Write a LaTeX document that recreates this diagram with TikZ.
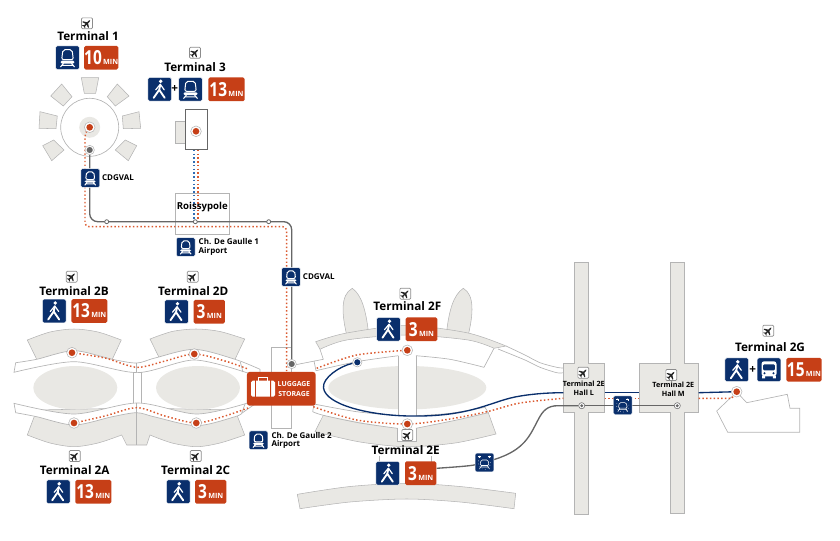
\documentclass[tikz,border=0pt]{standalone}
\usepackage{fontspec}
\setmainfont{Open Sans}
\newfontfamily\timefont[FakeStretch=.8]{Open Sans}
\usetikzlibrary{arrows.meta,positioning}
\pgfdeclarelayer{bldglayer}
\pgfdeclarelayer{linelayer}
\pgfsetlayers{bldglayer,linelayer,main}
\definecolor{navy}{HTML}{0A2F6C}
\definecolor{rust}{HTML}{C63F17}
\definecolor{dotred}{HTML}{DB5A30}
\definecolor{dotblue}{HTML}{2F6DB5}
\definecolor{pale}{HTML}{E9E8E4}
\definecolor{edge}{HTML}{B4B4B4}
\definecolor{valgrey}{HTML}{666666}
\newcommand{\mins}[1]{{\timefont\bfseries\fontsize{14.5}{14.5}\selectfont #1}\hspace{1pt}{\fontsize{5.4}{5.4}\selectfont\bfseries MIN}}
\tikzset{
  termlabel/.style={font=\fontsize{8.8}{10}\selectfont\bfseries,inner sep=0pt},
  minilabel/.style={font=\fontsize{6}{6.2}\selectfont\bfseries,align=left,inner sep=0pt},
  halllabel/.style={font=\fontsize{5.4}{7}\selectfont\bfseries,align=center,inner sep=0pt},
  iconbox/.style={fill=navy,draw=white,line width=.3pt,rounded corners=1.2pt,minimum size=17.8pt,inner sep=0pt},
  minibox/.style={fill=navy,draw=white,line width=.3pt,rounded corners=1pt,minimum size=14pt,inner sep=0pt},
  timebox/.style={fill=rust,text=white,rounded corners=1.2pt,minimum height=17.8pt,inner sep=0pt},
  planebox/.style={fill=white,draw=black!45,line width=.5pt,rounded corners=.8pt,minimum size=8.2pt,inner sep=0pt},
  redstop/.style={circle,fill=white,draw=edge,line width=.4pt,minimum size=8pt,inner sep=0pt,
    path picture={\fill[rust] (path picture bounding box.center) circle (2.5pt);}},
  bluestop/.style={circle,fill=white,draw=edge,line width=.4pt,minimum size=7pt,inner sep=0pt,
    path picture={\fill[navy] (path picture bounding box.center) circle (2.3pt);}},
  darkstop/.style={circle,fill=white,draw=edge,line width=.4pt,minimum size=7pt,inner sep=0pt,
    path picture={\fill[valgrey] (path picture bounding box.center) circle (2.3pt);}},
  hallstop/.style={circle,fill=white,draw=valgrey,line width=.4pt,minimum size=4.6pt,inner sep=0pt,
    path picture={\fill[valgrey] (path picture bounding box.center) circle (1.2pt);}},
  linestop/.style={circle,fill=white,draw=valgrey,line width=.6pt,minimum size=3pt,inner sep=0pt},
  valline/.style={draw=valgrey,line width=1pt},
  navyline/.style={draw=navy,line width=1pt},
  reddots/.style={draw=dotred,line width=1.1pt,dash pattern=on 1.1pt off 1.7pt},
  bluedots/.style={draw=dotblue,line width=1.1pt,dash pattern=on 1.1pt off 1.7pt},
  bldg/.style={fill=pale,draw=edge,line width=.4pt},
  thin outline/.style={draw=edge,line width=.5pt},
  pics/walkglyph/.style={code={
    \fill[white] (1,-8) circle (1.9);
    \draw[white,line width=1.4pt,line cap=round,line join=round]
      (-6,8.5) -- (-.5,.5) -- (5,8.5) (-.5,.5) -- (.6,-4.5);
    \draw[white,line width=.9pt,line cap=round,line join=round]
      (-4,.5) -- (.6,-5) -- (4.5,.5);
  }},
  pics/trainglyph/.style={code={
    \draw[white,line width=.75pt,rounded corners=1.5pt] (-4.6,-8) -- (4.6,-8) -- (5.8,2) -- (-5.8,2) -- cycle;
    \fill[white,rounded corners=1pt] (-7,3) rectangle (7,5.8);
    \draw[white,line width=.75pt] (-4,5.5) -- (-7,9.3) (4,5.5) -- (7,9.3) (-5.5,7.6) -- (5.5,7.6);
  }},
  pics/busglyph/.style={code={
    \fill[white,rounded corners=2pt] (-7.5,-8.5) rectangle (7.5,6.5);
    \fill[navy,rounded corners=.8pt] (-5.8,-5.5) rectangle (5.8,.5);
    \fill[navy] (-4.5,3.5) circle (1.1) (4.5,3.5) circle (1.1);
    \fill[white] (-6.8,6) rectangle (-3.8,8.5) (3.8,6) rectangle (6.8,8.5);
  }},
  pics/shuttleglyph/.style={code={
    \draw[white,line width=.4pt,rounded corners=1pt] (-3.5,-2.5) -- (3.5,-2.5) -- (4.5,3) -- (-4.5,3) -- cycle;
    \draw[white,line width=.4pt] (-4,4.5) -- (4,4.5) (-3,3) -- (-5,6.5) (3,3) -- (5,6.5);
    \draw[white,line width=.4pt,dotted] (-6,-2) .. controls (-7,3) and (-4,7) .. (0,7) .. controls (4,7) and (7,3) .. (6,-2);
    \draw[white,line width=.4pt,-{Stealth[length=1.5pt]}] (-5,-4.5) -- (-5,-7);
    \draw[white,line width=.4pt,-{Stealth[length=1.5pt]}] (5,-4.5) -- (5,-7);
    \draw[white,line width=.4pt] (-6.5,-6) -- (-3.5,-6) (3.5,-6) -- (6.5,-6);
  }},
  pics/planeglyph/.style={code={
    \begin{scope}[rotate=45]
      \fill[black!85] (-4.2,-.7) -- (3,-.7) -- (4.4,0) -- (3,.7) -- (-4.2,.7) -- cycle;
      \fill[black!85] (1.2,0) -- (-1.4,-4.2) -- (-2.4,-4.2) -- (-1.2,0) -- (-2.4,4.2) -- (-1.4,4.2) -- cycle;
      \fill[black!85] (-3,0) -- (-4.4,-2) -- (-5,-2) -- (-4.4,0) -- (-5,2) -- (-4.4,2) -- cycle;
    \end{scope}
  }},
}
\begin{document}
\begin{tikzpicture}[x=.75pt,y=-.75pt]
  \useasboundingbox (0,0) rectangle (840,540);

  \begin{pgfonlayer}{bldglayer}
  % terminal 1
  \draw[thin outline] (89.7,127.3) circle (29);
  \fill[pale] (89.7,127.3) circle (10.5);
  \foreach \sat in {
    {(81.3,77.7) -- (98.7,77.7) -- (95.7,93.3) -- (84.3,93.3)},
    {(117.3,84) -- (129,96) -- (115.3,106) -- (107.3,96.7)},
    {(122.3,116) -- (139,111.7) -- (140.7,128.3) -- (123.3,128.7)},
    {(125.3,140) -- (136.7,145.7) -- (128.3,160.7) -- (115.3,150)},
    {(53.7,140) -- (64,150) -- (51.7,160.7) -- (42.7,145.7)},
    {(40,111.7) -- (57.3,116) -- (56,128.7) -- (39,128.3)},
    {(61.7,84) -- (72,96.7) -- (63.3,106) -- (50.7,96)}}
    \draw[bldg] \sat -- cycle;

  % terminal 3 and roissypole
  \draw[bldg] (175.3,121.7) rectangle (185.7,143.3);
  \draw[draw=valgrey,line width=.6pt,fill=white] (185.7,109.3) rectangle (207.7,149.3);
  \draw[thin outline] (175.3,193.3) rectangle (229.3,234.3);

  % terminal 2 piers, west part
  \draw[bldg] plot[smooth] coordinates {(27.3,340) (50,332) (74,329) (98,332) (121.3,340)} -- (112.3,359.3) -- (36.7,359.3) -- cycle;
  \draw[bldg] plot[smooth] coordinates {(150,339) (172,331.5) (196,329) (220,331.5) (244.7,339)} -- (235,359.3) -- (160,359.3) -- cycle;
  \draw[bldg] (36.7,410) -- (27.3,435) -- plot[smooth] coordinates {(27.3,435) (50,443) (74,446.7) (98,443) (121.7,435)}
    -- (126.7,445) -- (146.7,445) -- (150,435) -- plot[smooth] coordinates {(150,435) (172,443) (196.7,446.7) (220,443) (244.7,435)}
    -- (235,410) -- (136.7,408) -- cycle;
  \fill[pale] (75.3,387.7) ellipse (42 and 21.7);
  \fill[pale] (198,387.7) ellipse (42 and 21.7);
  \draw[thin outline,fill=white] plot[smooth] coordinates {(15.7,362.7) (36.7,359.3) (74,350.7) (112.3,359.3) (136.7,363) (155,358) (194.3,349.3) (235,359.3) (260,369.3)}
    -- (260,376) -- plot[smooth] coordinates {(246.7,372.7) (194.3,360) (137.5,372.6) (74,361.7) (14,372.3)} -- cycle;
  \draw[thin outline,fill=white] plot[smooth] coordinates {(14,403.3) (74,414) (137.5,403) (196.7,414) (246.7,403.3)}
    -- (255,404) -- plot[smooth] coordinates {(241.7,413.3) (235,416.7) (196.7,425.7) (155,417) (136.7,412.7) (112.3,416.7) (74,425) (36.7,416.7) (15.7,412.7)} -- cycle;
  \draw[thin outline] (133.3,372.3) -- (133.3,403.3) (141.7,372.3) -- (141.7,403.3);
  \draw[thin outline] (136.7,363) -- (136.7,372.3) (136.7,403.3) -- (136.7,445);
  \draw[thin outline] (240.3,362) -- (243,372) (241.7,413.3) -- (245,404);
  \draw[thin outline] (271.3,372) -- (271.3,347.7) -- (291.7,347.7) -- (291.7,372);
  \draw[thin outline] (271.3,405) -- (271.3,428.3) -- (291.7,428.3) -- (291.7,405);

  % terminal 2 piers, east part
  \draw[bldg] (346.7,335) .. controls (342,315) and (340,295) .. (352.3,288.3) .. controls (362,295) and (366,312) .. (368.3,331) -- cycle;
  \draw[bldg] (446.7,331) .. controls (449,312) and (453,295) .. (463.3,288.3) .. controls (475,295) and (473,315) .. (468.3,335) -- cycle;
  \draw[bldg] plot[smooth] coordinates {(315.7,341.7) (346.7,333) (406.7,325.5) (468,333) (506,346)} -- (494,348.3)
    -- plot[smooth] coordinates {(494,348.3) (468,340) (406.7,335) (346.7,340) (320,349.3)} -- cycle;
  \draw[bldg] (323.3,415.3) -- (315,431.7) -- plot[smooth] coordinates {(315,431.7) (360,442) (406.7,446.7) (455,443) (496,434)} -- (488.3,412.7) -- (406.7,421) -- cycle;
  \draw[bldg] plot[smooth] coordinates {(297.3,494.3) (350,486.5) (406.7,483.3) (460,486.5) (515.7,493.3)} -- (514,508.7)
    -- plot[smooth] coordinates {(514,508.7) (460,502) (406.7,499) (350,502) (300,508.7)} -- cycle;
  \draw[thin outline] (379.3,456) -- (379.3,462) (431,456) -- (431,462);
  \fill[pale] (407.3,387.7) ellipse (79 and 21.7);
  \fill[white] (398.3,355.7) rectangle (416,416);
  \fill[white] plot[smooth] coordinates {(314,404) (356.7,411.7) (398.3,415.7) (416,415.7) (450,413.3) (485,407.3)}
    -- (488.3,412.7) -- plot[smooth] coordinates {(488.3,412.7) (456.7,420) (416,428.3) (397.3,428.3) (323.3,415.3) (312.7,411.7)} -- cycle;
  \draw[thin outline,fill=white] (397.3,428.3) -- (397.3,441.7) -- (416,441.7) -- (416,428.3);
  \draw[thin outline] plot[smooth] coordinates {(314,404) (356.7,411.7) (398.3,415.7)};
  \draw[thin outline] plot[smooth] coordinates {(416,415.7) (450,413.3) (485,407.3)};
  \draw[thin outline] plot[smooth] coordinates {(312.7,411.7) (323.3,415.3) (360,423) (397.3,428.3)};
  \draw[thin outline] plot[smooth] coordinates {(416,428.3) (456.7,420) (488.3,412.7)};
  \draw[thin outline] (314,404) -- (312.7,411.7) (485,407.3) -- (488.3,412.7);
  \draw[thin outline] (398.3,355.7) -- (398.3,415.7) (416,355.7) -- (416,415.7);
  \draw[thin outline] plot[smooth] coordinates {(316,370.7) (356.7,361.7) (398.3,355.7)};
  \draw[thin outline] plot[smooth] coordinates {(416,355.7) (450,359.3) (484,367.3)};
  \draw[thin outline] (484,367.3) -- (494,348.3) (320,349.3) -- (323.3,359.3) -- (291.7,365.5) (314,361) -- (316,370.7);
  \draw[thin outline] plot[smooth] coordinates {(506,346) (525,355) (540,362.7) (556.7,367.3) (563.3,368)};
  \draw[thin outline] plot[smooth] coordinates {(498,349) (525,360) (540,367.3) (556.7,372.7) (563.3,372.7)};

  % halls and terminal 2G
  \draw[bldg] (574.3,262) rectangle (588.7,514);
  \draw[bldg] (670.3,262.7) rectangle (684.7,513.3);
  \draw[bldg] (563.3,363.3) rectangle (604.7,412.7);
  \draw[bldg] (639.3,363.3) rectangle (698.7,412.7);
  \fill[pale] (574.6,362) rectangle (588.4,365);
  \fill[pale] (574.6,411) rectangle (588.4,414);
  \fill[pale] (670.6,362) rectangle (684.4,365);
  \fill[pale] (670.6,411) rectangle (684.4,414);
  \draw[thin outline] (731.7,396.7) -- (716.7,411) -- (727.7,432.3) -- (799.7,432.3) -- (799.7,408.3) -- (790,408.3) -- (787.3,394.3) -- (746.7,402.7) -- (737.3,392.7);
  \end{pgfonlayer}

  % stops
  \node[redstop] (t1stop) at (89.7,127.3) {};
  \node[darkstop] (t1val) at (89.7,150) {};
  \node[redstop] (t3stop) at (196,131.3) {};
  \node[linestop] (barone) at (106.7,221.7) {};
  \node[linestop] (roissy) at (195.3,221.7) {};
  \node[linestop] (bartwo) at (268.7,221.7) {};
  \node[darkstop] (t2val) at (291.7,364) {};
  \node[redstop] (t2b) at (72,352.7) {};
  \node[redstop] (t2d) at (194.3,354) {};
  \node[redstop] (t2a) at (74,423) {};
  \node[redstop] (t2c) at (196.3,423) {};
  \node[redstop] (t2f) at (407.3,350.3) {};
  \node[redstop] (t2e) at (407.3,424) {};
  \node[bluestop] (navyend) at (357.3,362.3) {};
  \node[redstop] (t2g) at (736.7,391.7) {};
  \node[hallstop] (halll) at (581.7,405.7) {};
  \node[hallstop] (hallm) at (677.3,405.7) {};

  % luggage box
  \node[fill=rust,rounded corners=2pt,minimum width=51.5pt,minimum height=25.3pt,inner sep=0pt] (luggage) at (281.3,388.8) {};
  \fill[white,rounded corners=1.2pt] (251,380.7) rectangle (275,396.7);
  \fill[rust] (255,380) rectangle (255.8,397) (270.2,380) rectangle (271,397);
  \draw[white,line width=.8pt] (258.5,380.7) -- (258.5,377.5) -- (267.5,377.5) -- (267.5,380.7);
  \node[font=\fontsize{5.2}{7.2}\selectfont\bfseries,text=white,align=center,inner sep=0pt] (luggagetext) at (294,389.3) {LUGGAGE\\STORAGE};

  % cdgval and rer labels
  \node[minibox] (valone) at (90.2,178) {};
  \pic[scale=.78] at (valone) {trainglyph};
  \node[minilabel,right=1.6pt of valone] (valonetext) {CDGVAL};
  \node[minibox] (valtwo) at (291,277) {};
  \pic[scale=.78] at (valtwo) {trainglyph};
  \node[minilabel,right=1.6pt of valtwo] (valtwotext) {CDGVAL};
  \node[minibox] (rerone) at (185.7,247) {};
  \pic[scale=.78] at (rerone) {trainglyph};
  \node[minilabel,right=2.4pt of rerone] (reronetext) {Ch. De Gaulle 1\\Airport};
  \node[minibox] (rertwo) at (258.5,440.3) {};
  \pic[scale=.78] at (rertwo) {trainglyph};
  \node[minilabel,right=2.4pt of rertwo] (rertwotext) {Ch. De Gaulle 2\\Airport};
  \node[termlabel,font=\fontsize{7.2}{9}\selectfont\bfseries] (roissytext) at (202.3,207.3) {Roissypole};

  % shuttle between 2E and the halls
  \node[minibox] (shuttlea) at (484.5,462.5) {};
  \pic at (shuttlea) {shuttleglyph};
  \node[minibox] (shuttleb) at (622.8,405.2) {};
  \pic at (shuttleb) {shuttleglyph};

  % terminal 1
  \node[planebox] (planea) at (87,23.3) {};
  \pic at (planea) {planeglyph};
  \node[termlabel] (labela) at (88,36) {Terminal 1};
  \node[iconbox] (tonetrain) at (67.5,57.7) {};
  \pic at (tonetrain) {trainglyph};
  \node[timebox,minimum width=25.6pt] (tonetime) at (101.2,57.7) {\mins{10}};

  % terminal 3
  \node[planebox] (planeb) at (195,52.7) {};
  \pic at (planeb) {planeglyph};
  \node[termlabel] (labelb) at (195,67.3) {Terminal 3};
  \node[iconbox] (tthreewalk) at (159.7,89.3) {};
  \pic at (tthreewalk) {walkglyph};
  \node[termlabel] (plusb) at (174.6,89.3) {+};
  \node[iconbox] (tthreetrain) at (190.5,89.3) {};
  \pic at (tthreetrain) {trainglyph};
  \node[timebox,minimum width=27.3pt] (tthreetime) at (226.5,89.3) {\mins{13}};

  % terminal 2B
  \node[planebox] (planec) at (71.7,276.7) {};
  \pic at (planec) {planeglyph};
  \node[termlabel] (labelc) at (74,290.7) {Terminal 2B};
  \node[iconbox] (tbwalk) at (54.2,311) {};
  \pic at (tbwalk) {walkglyph};
  \node[timebox,minimum width=27pt] (tbtime) at (89.3,311) {\mins{13}};

  % terminal 2D
  \node[planebox] (planed) at (192.7,276.7) {};
  \pic at (planed) {planeglyph};
  \node[termlabel] (labeld) at (193.3,290.7) {Terminal 2D};
  \node[iconbox] (tdwalk) at (176.5,311.7) {};
  \pic at (tdwalk) {walkglyph};
  \node[timebox,minimum width=23.5pt] (tdtime) at (209.3,311.7) {\mins{3}};

  % terminal 2A
  \node[planebox] (planee) at (74.7,456) {};
  \pic at (planee) {planeglyph};
  \node[termlabel] (labele) at (74.7,469.7) {Terminal 2A};
  \node[iconbox] (tawalk) at (58.2,491.8) {};
  \pic at (tawalk) {walkglyph};
  \node[timebox,minimum width=27pt] (tatime) at (93.3,491.8) {\mins{13}};

  % terminal 2C
  \node[planebox] (planef) at (195.7,456) {};
  \pic at (planef) {planeglyph};
  \node[termlabel] (labelf) at (195.7,469.7) {Terminal 2C};
  \node[iconbox] (tcwalk) at (178.2,491.8) {};
  \pic at (tcwalk) {walkglyph};
  \node[timebox,minimum width=23.5pt] (tctime) at (210.7,491.8) {\mins{3}};

  % terminal 2F
  \node[planebox] (planeg) at (405.3,293.7) {};
  \pic at (planeg) {planeglyph};
  \node[termlabel] (labelg) at (407.3,306) {Terminal 2F};
  \node[iconbox] (tfwalk) at (388.5,329.2) {};
  \pic at (tfwalk) {walkglyph};
  \node[timebox,minimum width=23.7pt] (tftime) at (421.5,329.2) {\mins{3}};

  % terminal 2E
  \node[planebox] (planeh) at (407.3,435) {};
  \pic at (planeh) {planeglyph};
  \node[termlabel] (labelh) at (405.7,450.3) {Terminal 2E};
  \node[iconbox] (tewalk) at (387.8,473.2) {};
  \pic at (tewalk) {walkglyph};
  \node[timebox,minimum width=23.5pt] (tetime) at (420.7,473.2) {\mins{3}};

  % halls
  \node[planebox] (planei) at (583.3,372.7) {};
  \pic at (planei) {planeglyph};
  \node[halllabel] (labeli) at (583.8,388.3) {Terminal 2E\\Hall L};
  \node[planebox] (planej) at (671.3,375) {};
  \pic at (planej) {planeglyph};
  \node[halllabel] (labelj) at (673.3,389.3) {Terminal 2E\\Hall M};

  % terminal 2G
  \node[planebox] (planek) at (768.3,330.7) {};
  \pic at (planek) {planeglyph};
  \node[termlabel] (labelk) at (770,346.7) {Terminal 2G};
  \node[iconbox] (tgwalk) at (736.8,369.8) {};
  \pic at (tgwalk) {walkglyph};
  \node[termlabel] (plusk) at (752.7,370) {+};
  \node[iconbox] (tgbus) at (769,369.8) {};
  \pic at (tgbus) {busglyph};
  \node[timebox,minimum width=26.5pt] (tgtime) at (804,369.8) {\mins{15}};

  % connectors
  \begin{pgfonlayer}{linelayer}
    \coordinate (t3blue) at (194,150);
    \coordinate (t3red) at (198,150);
    \draw[bluedots] (t3blue) -- (t3blue |- roissy);
    \draw[reddots] (t3red) -- (t3red |- roissy);
    \draw[valline,rounded corners=6pt] (t1val) -- (t1val |- roissy) -- (t2val |- roissy) -- (t2val);
    \draw[reddots,rounded corners=3pt] (t1stop) -- (85,133) -- (85,226.7) -- (286.7,226.7) -- (286.7,372);
    \draw[reddots] plot[smooth] coordinates {(t2b) (105,358) (136.7,367.3) (165,361) (t2d) (225,361) (248,369)};
    \draw[reddots] plot[smooth] coordinates {(t2a) (105,416) (136.7,407.7) (165,416) (t2c) (225,416) (248,408)};
    \draw[reddots] plot[smooth] coordinates {(316.7,368.3) (356.7,355) (t2f)};
    \draw[reddots] plot[smooth] coordinates {(313.3,406.7) (356.7,420) (t2e) (450,419) (487,411.7) (520,403) (563.3,398.3)};
    \draw[reddots] (604.7,398.3) -- (639.3,398.3);
    \draw[reddots] (698.7,398.3) -- (731.7,398.3) -- (t2g);
    \draw[navyline] (navyend) .. controls (340,366) and (322,378) .. (323.5,388) .. controls (326,405) and (370,415.5) .. (410,416) .. controls (470,417) and (490,402) .. (515,397) .. controls (530,394) and (548,392.7) .. (563.3,392.7);
    \draw[navyline] (604.7,392.7) -- (639.3,392.7);
    \draw[navyline] (698.7,392.7) -- (t2g);
    \draw[valline] (halll) -- (hallm);
    \draw[valline] (tetime.east |- 0,468.3) .. controls (455,467) and (470,466) .. (shuttlea);
    \draw[valline] (shuttlea) .. controls (525,450) and (530,435) .. (538,420) .. controls (543,410) and (548,405.7) .. (558,405.7) -- (halll);
  \end{pgfonlayer}
\end{tikzpicture}
\end{document}
